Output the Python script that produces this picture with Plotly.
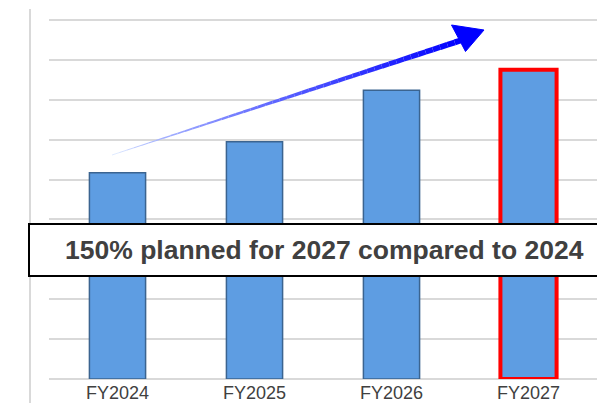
import plotly.graph_objects as go

# Planned volume index by fiscal year (FY2024 = 100)
years = ["FY2024", "FY2025", "FY2026", "FY2027"]
index_values = [100, 115, 140, 150]
grid_step = 19.34
y_max = 179.4

callout_text = "150% planned for 2027 compared to 2024"

# Figure geometry (pixels) used to place decorations in paper coordinates
FIG_W, FIG_H = 597, 403
M_L, M_R, M_T, M_B = 49, 0, 9, 24
PLOT_W = FIG_W - M_L - M_R
PLOT_H = FIG_H - M_T - M_B


def px(x):
    return (x - M_L) / PLOT_W


def py(y):
    return (FIG_H - M_B - y) / PLOT_H


bar_fill = ["#5e9de2"] * len(years)
edge_color = ["#3b6490"] * (len(years) - 1) + ["#ff0000"]
edge_width = [1.5] * (len(years) - 1) + [4]

fig = go.Figure(
    go.Bar(
        x=years,
        y=index_values,
        width=0.41,
        marker=dict(color=bar_fill, line=dict(color=edge_color, width=edge_width)),
        hoverinfo="skip",
    )
)

shapes = []

# Left axis rule
shapes.append(dict(type="line", xref="paper", yref="paper",
                   x0=px(30), x1=px(30), y0=py(FIG_H), y1=py(9),
                   line=dict(color="#d9d9d9", width=2), layer="below"))

# Growth arrow: shaft fades from pale blue to solid blue and thickens
x_start, y_start = 112, 155
x_end, y_end = 462, 40
n_seg = 48
c0 = (215, 232, 255)
c1 = (0, 0, 255)
for i in range(n_seg):
    t0 = i / n_seg
    t1 = (i + 1) / n_seg
    tm = (t0 + t1) / 2
    a = tm ** 0.75
    col = tuple(int(round(c0[k] * (1 - a) + c1[k] * a)) for k in range(3))
    w = 0.6 + 5.4 * tm
    shapes.append(dict(
        type="line", xref="paper", yref="paper",
        x0=px(x_start + (x_end - x_start) * t0), y0=py(y_start + (y_end - y_start) * t0),
        x1=px(x_start + (x_end - x_start) * t1), y1=py(y_start + (y_end - y_start) * t1),
        line=dict(color="rgb(%d,%d,%d)" % col, width=w)))

head = [(451.5, 25), (484, 30), (465.5, 51.5)]
path = "M {} {} L {} {} L {} {} Z".format(
    *[v for p in head for v in (px(p[0]), py(p[1]))])
shapes.append(dict(type="path", xref="paper", yref="paper", path=path,
                   fillcolor="#0000ff", line=dict(color="#0000ff", width=1)))

# Callout box
shapes.append(dict(type="rect", xref="paper", yref="paper",
                   x0=px(29), x1=px(FIG_W + 5), y0=py(276), y1=py(224),
                   fillcolor="white", line=dict(color="#000000", width=2)))

fig.update_layout(
    width=FIG_W,
    height=FIG_H,
    margin=dict(l=M_L, r=M_R, t=M_T, b=M_B, pad=0, autoexpand=False),
    paper_bgcolor="white",
    plot_bgcolor="white",
    showlegend=False,
    font=dict(family="Liberation Sans, Arial, sans-serif", color="#404040"),
    xaxis=dict(
        showgrid=False, showline=False, zeroline=False, ticks="",
        tickfont=dict(size=18, color="#404040"),
        ticklabelstandoff=1,
        automargin=False,
        fixedrange=True,
    ),
    yaxis=dict(
        range=[0, y_max], dtick=grid_step, tick0=0,
        showgrid=True, gridcolor="#d9d9d9", gridwidth=1.5,
        zeroline=True, zerolinecolor="#d9d9d9", zerolinewidth=1.5,
        showticklabels=False, showline=False, ticks="",
        automargin=False,
        fixedrange=True,
    ),
    shapes=shapes,
    annotations=[dict(
        text="<b>%s</b>" % callout_text,
        xref="paper", yref="paper", x=px(324), y=py(250),
        xanchor="center", yanchor="middle", showarrow=False,
        font=dict(size=26.5, color="#404040",
                  family="Liberation Sans, Arial, sans-serif"),
    )],
)

fig.write_html("out.html")
